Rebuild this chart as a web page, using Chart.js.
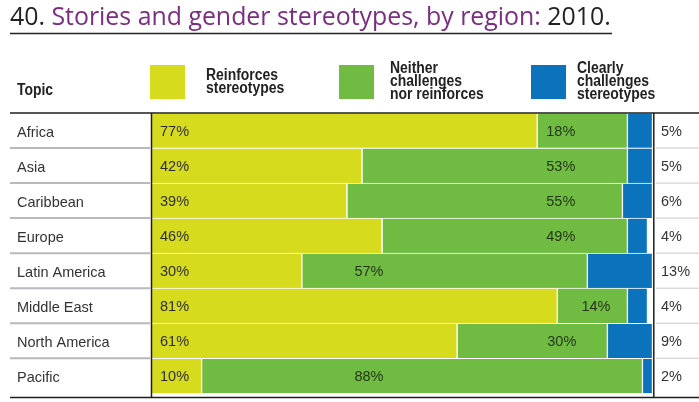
<!DOCTYPE html>
<html>
<head>
<meta charset="utf-8">
<script src="https://cdn.jsdelivr.net/npm/chart.js@4"></script>
<style>
html,body{margin:0;padding:0;background:#fff;}
#c{display:block;}
</style>
</head>
<body>
<canvas id="c" width="699" height="402"></canvas>
<script>
// ---- data ----
const regions = ["Africa","Asia","Caribbean","Europe","Latin America","Middle East","North America","Pacific"];
const reinforces = [77,42,39,46,30,81,61,10];
const neither = [18,53,55,49,57,14,30,88];
const clearly = [5,5,6,4,13,4,9,2];
const seriesNames = [["Reinforces","stereotypes"],["Neither","challenges","nor reinforces"],["Clearly","challenges","stereotypes"]];
const titleParts = ["40. ","Stories and gender stereotypes, by region:"," 2010."];
const headerTopic = "Topic";

// ---- styles ----
const COLORS = ["#D7DB1E","#70BC43","#0A73BC"];
const PURPLE = "#7B2D82";
const TEXT = "#2e2e2e";
const REG = "'Liberation Sans',Arial,sans-serif";
const HEAD = "bold 16px 'Liberation Sans',Arial,sans-serif";
// label column (value units) for the middle series text, per row (layout only)
const neitherLabelAt = [81.6,81.6,81.6,81.6,43.3,88.6,81.8,43.3];

function narrowText(ctx, t, x, y, k) {
  ctx.save();
  ctx.translate(x, y);
  ctx.scale(k, 1);
  ctx.fillText(t, 0, 0);
  ctx.restore();
}

const decor = {
  id: 'decor',
  afterDraw(chart) {
    const ctx = chart.ctx;
    const ca = chart.chartArea;
    const xs = chart.scales.x, ys = chart.scales.y;
    ctx.save();
    // title
    let fs = 21;
    ctx.font = fs + "px 'Open Sans',sans-serif";
    let w = titleParts.reduce((a,t)=>a+ctx.measureText(t).width,0);
    fs = fs * 601 / w;
    ctx.font = fs.toFixed(2) + "px 'Open Sans',sans-serif";
    ctx.textBaseline = 'alphabetic';
    ctx.textAlign = 'left';
    let tx = 10;
    titleParts.forEach((t,i)=>{
      ctx.fillStyle = i===1 ? PURPLE : "#222";
      ctx.fillText(t, tx, 24.5);
      tx += ctx.measureText(t).width;
    });
    ctx.strokeStyle = "#222"; ctx.lineWidth = 1.5;
    ctx.beginPath(); ctx.moveTo(10,33.5); ctx.lineTo(612,33.5); ctx.stroke();

    // header (condensed look via horizontal scale)
    ctx.fillStyle = "#222";
    ctx.font = HEAD;
    const k = 72 / ctx.measureText(seriesNames[0][0]).width;
    narrowText(ctx, headerTopic, 17, 94.5, k);
    const sw = [[150,206],[339,390],[531,577]];
    sw.forEach((s,i)=>{
      ctx.fillStyle = COLORS[i];
      ctx.fillRect(s[0],65,35,34);
      ctx.fillStyle = "#222";
      const lines = seriesNames[i];
      const base = lines.length===3 ? 73 : 80;
      lines.forEach((l,j)=>narrowText(ctx, l, s[1], base + j*13, k));
    });

    // frame lines
    ctx.strokeStyle = "#1e1e1e"; ctx.lineWidth = 1.5;
    ctx.beginPath(); ctx.moveTo(10,113); ctx.lineTo(699,113); ctx.stroke();
    ctx.beginPath(); ctx.moveTo(10,397.5); ctx.lineTo(699,397.5); ctx.stroke();
    ctx.beginPath(); ctx.moveTo(ca.left-0.5,113); ctx.lineTo(ca.left-0.5,398); ctx.stroke();
    ctx.beginPath(); ctx.moveTo(ca.right+0.8,113); ctx.lineTo(ca.right+0.8,398); ctx.stroke();

    // row separators
    for (let i=0;i<regions.length-1;i++){
      const y = (ys.getPixelForValue(i)+ys.getPixelForValue(i+1))/2;
      ctx.strokeStyle = "#b9b9bd"; ctx.lineWidth = 2;
      ctx.beginPath(); ctx.moveTo(10,y); ctx.lineTo(ca.left-2,y); ctx.stroke();
      ctx.strokeStyle = "#c9c9c9"; ctx.lineWidth = 1;
      ctx.beginPath(); ctx.moveTo(ca.right+3,y); ctx.lineTo(699,y); ctx.stroke();
    }

    // value labels
    ctx.font = "14.5px " + REG;
    ctx.textBaseline = 'middle';
    regions.forEach((r,i)=>{
      const y = ys.getPixelForValue(i) + 1;
      ctx.fillStyle = TEXT;
      ctx.textAlign = 'left';
      ctx.fillText(reinforces[i] + "%", ca.left + 8, y);
      ctx.textAlign = 'center';
      ctx.fillStyle = "#263619";
      ctx.fillText(neither[i] + "%", xs.getPixelForValue(neitherLabelAt[i]), y);
      ctx.textAlign = 'left';
      ctx.fillStyle = "#333";
      ctx.fillText(clearly[i] + "%", 661, y);
    });
    ctx.restore();
  }
};

new Chart(document.getElementById('c'), {
  type: 'bar',
  data: {
    labels: regions,
    datasets: [
      {label: seriesNames[0].join(' '), data: reinforces, backgroundColor: COLORS[0]},
      {label: seriesNames[1].join(' '), data: neither, backgroundColor: COLORS[1]},
      {label: seriesNames[2].join(' '), data: clearly, backgroundColor: COLORS[2]}
    ]
  },
  options: {
    indexAxis: 'y',
    responsive: false,
    animation: false,
    devicePixelRatio: 1,
    layout: {padding: {left: 17, right: 46, top: 113, bottom: 4}},
    datasets: {bar: {
      barPercentage: 1, categoryPercentage: 1,
      borderColor: '#ffffff',
      borderWidth: {top: 1, bottom: 0.5, left: 0, right: 1.5},
      borderSkipped: false
    }},
    scales: {
      x: {stacked: true, min: 0, max: 100, display: false},
      y: {
        stacked: true,
        grid: {display: false},
        border: {display: false},
        ticks: {crossAlign: 'far', padding: 0, labelOffset: 2, color: '#333', font: {family: REG, size: 14.5}},
        afterFit(scale){ scale.width = 135; }
      }
    },
    plugins: {legend: {display: false}, tooltip: {enabled: false}, title: {display: false}}
  },
  plugins: [decor]
});
</script>
</body>
</html>
